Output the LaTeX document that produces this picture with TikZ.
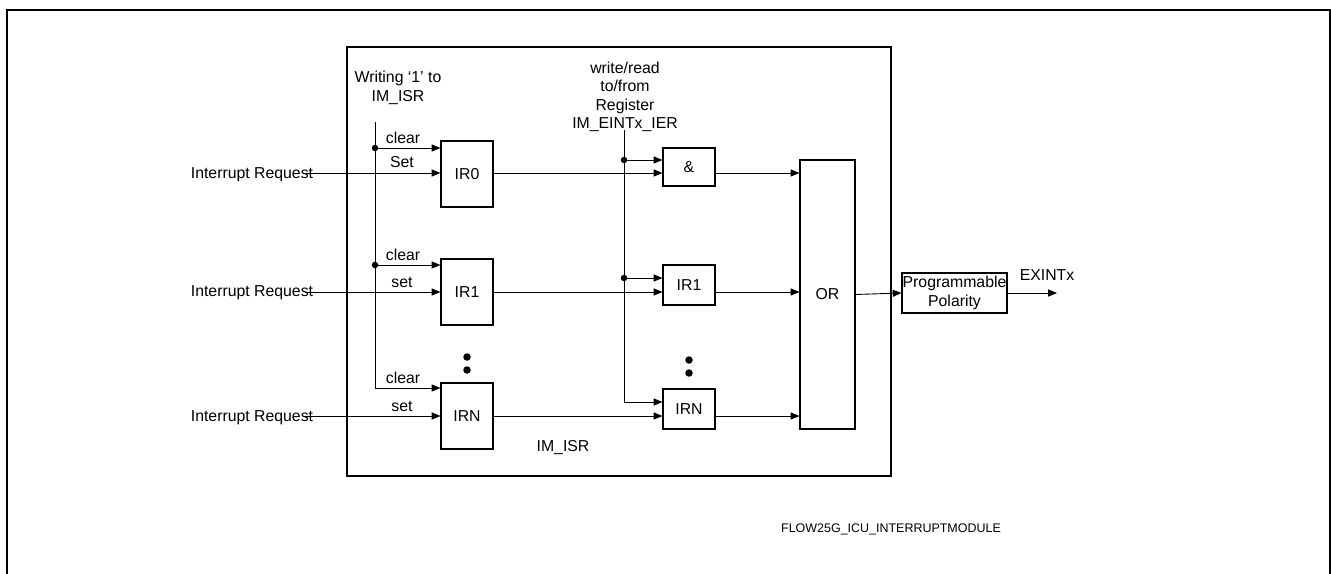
\documentclass[tikz,border=0pt]{standalone}
\usepackage{fontspec}
\setmainfont{Liberation Sans}
\usetikzlibrary{arrows.meta}
\tikzset{
	blk/.style={draw=black, line width=0.6pt, inner sep=0pt, minimum width=1.04cm, font=\fontsize{9}{10.5}\selectfont},
	lbl/.style={inner sep=0pt, font=\fontsize{9}{10.5}\selectfont},
	sig/.style={line width=0.5pt},
	arr/.style={sig, -{Triangle[length=5pt,width=4pt]}}
}
\begin{document}
\begin{tikzpicture}[x=0.02cm, y=-0.02cm]
	\useasboundingbox (0,0) rectangle (1331,574);
	\draw[line width=0.8pt] (7,574) -- (7,10) -- (1330,10) -- (1330,574);
	\draw[line width=1.1pt] (347,47) rectangle (891,476);
	\node[blk, minimum height=1.32cm] (ir0) at (467,174) {IR0};
	\node[blk, minimum height=1.32cm] (ir1) at (467,292) {IR1};
	\node[blk, minimum height=1.32cm] (irn) at (467,416) {IRN};
	\node[blk, minimum height=0.76cm] (and) at (689,167) {\&};
	\node[blk, minimum height=0.8cm] (ir1b) at (689,285) {IR1};
	\node[blk, minimum height=0.8cm] (irnb) at (689,409) {IRN};
	\node[blk, minimum width=1.1cm, minimum height=5.38cm] (or) at (827.5,294.5) {OR};
	\node[blk, minimum width=2.1cm, minimum height=0.8cm, align=center] (pol) at (954.5,293) {Programmable\\Polarity};
	\node[lbl, align=center] (wr) at (398,88) {Writing ‘1’ to\\IM\_ISR};
	\node[lbl, align=center] (reg) at (625,97) {write/read\\to/from\\Register\\IM\_EINTx\_IER};
	\node[lbl] (rq0) at (252,175) {Interrupt Request};
	\node[lbl] (rq1) at (252,293) {Interrupt Request};
	\node[lbl] (rqn) at (252,418) {Interrupt Request};
	\node[lbl] (cl0) at (403,138) {clear};
	\node[lbl] (st0) at (402,162) {Set};
	\node[lbl] (cl1) at (403,255) {clear};
	\node[lbl] (st1) at (402,282) {set};
	\node[lbl] (cln) at (403,378) {clear};
	\node[lbl] (stn) at (402,406) {set};
	\node[lbl] (isr) at (563,448) {IM\_ISR};
	\node[lbl] (ext) at (1047,275) {EXINTx};
	\node[inner sep=0pt, font=\fontsize{7.1}{8}\selectfont] (fig) at (891,529) {FLOW25G\_ICU\_INTERRUPTMODULE};
	\coordinate (req0) at (305,173);
	\coordinate (req1) at (305,292);
	\coordinate (reqn) at (305,416);
	\coordinate (wtop) at (375,122);
	\coordinate (c0) at (375,148);
	\coordinate (c1) at (375,265);
	\coordinate (wbot) at (375,388);
	\coordinate (rtop) at (624,130);
	\coordinate (d0) at (624,160);
	\coordinate (d1) at (624,278);
	\coordinate (rbot) at (624,402);
	\coordinate (out) at (1057,293);
	\draw[sig] (wtop) -- (wbot);
	\draw[sig] (rtop) -- (rbot);
	\draw[arr] (c0) -- (c0 -| ir0.west);
	\draw[arr] (c1) -- (c1 -| ir1.west);
	\draw[arr] (wbot) -- (wbot -| irn.west);
	\draw[arr] (req0) -- (req0 -| ir0.west);
	\draw[arr] (req1) -- (req1 -| ir1.west);
	\draw[arr] (reqn) -- (reqn -| irn.west);
	\draw[arr] (req0 -| ir0.east) -- (req0 -| and.west);
	\draw[arr] (req1 -| ir1.east) -- (req1 -| ir1b.west);
	\draw[arr] (reqn -| irn.east) -- (reqn -| irnb.west);
	\draw[arr] (d0) -- (d0 -| and.west);
	\draw[arr] (d1) -- (d1 -| ir1b.west);
	\draw[arr] (rbot) -- (rbot -| irnb.west);
	\draw[arr] (req0 -| and.east) -- (req0 -| or.west);
	\draw[arr] (req1 -| ir1b.east) -- (req1 -| or.west);
	\draw[arr] (reqn -| irnb.east) -- (reqn -| or.west);
	\draw[arr] (or.east) -- (pol.west);
	\draw[arr] (pol.east) -- (out);
	\foreach \p in {c0,c1,d0,d1}
		\fill (\p) circle (0.065cm);
	\foreach \x/\y in {467/357, 467/370, 689/360, 689/373}
		\fill (\x,\y) circle (0.075cm);
\end{tikzpicture}
\end{document}
